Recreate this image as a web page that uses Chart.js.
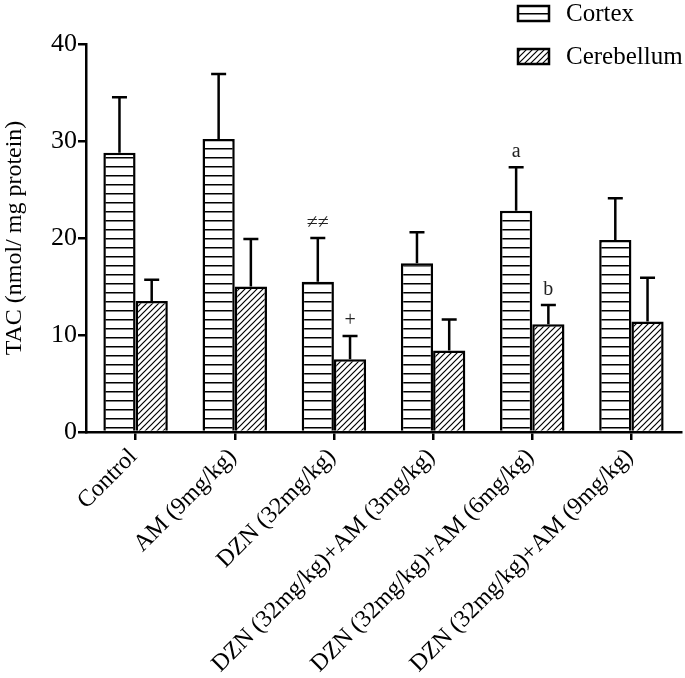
<!DOCTYPE html>
<html>
<head>
<meta charset="utf-8">
<script src="https://cdn.jsdelivr.net/npm/chart.js@4.4.0/dist/chart.umd.min.js"></script>
<style>
body{margin:0;background:#fff}
</style>
</head>
<body>
<canvas id="myChart" width="685" height="678"></canvas>
<script>
// data
const groups = ['Control', 'AM (9mg/kg)', 'DZN (32mg/kg)', 'DZN (32mg/kg)+AM (3mg/kg)', 'DZN (32mg/kg)+AM (6mg/kg)', 'DZN (32mg/kg)+AM (9mg/kg)'];
const cortex = [28.8, 30.2, 15.5, 17.4, 22.8, 19.8];
const cortexSD = [5.7, 6.7, 4.5, 3.2, 4.5, 4.3];
const cerebellum = [13.5, 15.0, 7.5, 8.4, 11.1, 11.4];
const cerebellumSD = [2.2, 4.9, 2.4, 3.2, 2.0, 4.5];
const cortexMarks = ['', '', '≠≠', '', 'a', ''];
const cerebellumMarks = ['', '', '+', '', 'b', ''];
const yTicks = [0, 10, 20, 30, 40];

const serif = "'Liberation Serif', 'Times New Roman', serif";

//patterns
function stripes(){
    const c = document.createElement('canvas');
    c.width = 9; c.height = 9;
    const g = c.getContext('2d');
    g.fillStyle = '#fff'; g.fillRect(0, 0, 9, 9);
    g.fillStyle = '#000'; g.fillRect(0, 4, 9, 1.5);
    return g.createPattern(c, 'repeat');
}
function hatch(){
    const c = document.createElement('canvas');
    c.width = 6; c.height = 6;
    const g = c.getContext('2d');
    g.fillStyle = '#fff'; g.fillRect(0, 0, 6, 6);
    g.strokeStyle = '#000'; g.lineWidth = 1.2;
    g.beginPath();
    g.moveTo(-1, 7); g.lineTo(7, -1);
    g.moveTo(-1, 1); g.lineTo(1, -1);
    g.moveTo(5, 7); g.lineTo(7, 5);
    g.stroke();
    return g.createPattern(c, 'repeat');
}
const ctx = document.getElementById('myChart').getContext('2d');
const cortexFill = stripes();
const cerebFill = hatch();

//error bars + significance marks
const errorBars = {
    id: 'errorBars',
    afterDatasetsDraw(chart){
        const c = chart.ctx;
        const y = chart.scales.y;
        chart.data.datasets.forEach((ds, i) => {
            const meta = chart.getDatasetMeta(i);
            meta.data.forEach((bar, j) => {
                const top = y.getPixelForValue(ds.data[j] + ds.sd[j]);
                c.save();
                c.strokeStyle = '#000';
                c.lineWidth = 2.5;
                c.beginPath();
                c.moveTo(bar.x, bar.y);
                c.lineTo(bar.x, top);
                c.moveTo(bar.x - 7.5, top);
                c.lineTo(bar.x + 7.5, top);
                c.stroke();
                if (ds.marks[j]) {
                    c.fillStyle = '#222';
                    c.font = '20px ' + serif;
                    c.textAlign = 'center';
                    c.textBaseline = 'bottom';
                    c.fillText(ds.marks[j], bar.x, top - 5);
                }
                c.restore();
            });
        });
    }
};

//legend top right
const boxLegend = {
    id: 'boxLegend',
    afterDraw(chart){
        const c = chart.ctx;
        const rows = [[6, 14], [49, 57]];
        chart.data.datasets.forEach((ds, i) => {
            const r = rows[i];
            c.save();
            c.fillStyle = ds.backgroundColor;
            c.fillRect(518, r[0], 31, 15);
            c.strokeStyle = '#000';
            c.lineWidth = 2.5;
            c.strokeRect(518, r[0], 31, 15);
            c.fillStyle = '#000';
            c.font = '25px ' + serif;
            c.textBaseline = 'middle';
            c.fillText(ds.label, 566, r[1]);
            c.restore();
        });
    }
};

const myChart = new Chart(ctx, {
    type: 'bar',
    data: {
        labels: groups,
        datasets: [{
            label: 'Cortex',
            data: cortex,
            sd: cortexSD,
            marks: cortexMarks,
            backgroundColor: cortexFill,
            borderColor: '#000',
            borderWidth: 2.5
        }, {
            label: 'Cerebellum',
            data: cerebellum,
            sd: cerebellumSD,
            marks: cerebellumMarks,
            backgroundColor: cerebFill,
            borderColor: '#000',
            borderWidth: 2.5
        }]
    },
    options: {
        responsive: false,
        animation: false,
        layout: {padding: {top: 44, right: 4, left: 0, bottom: 0}},
        datasets: {bar: {categoryPercentage: 0.65, barPercentage: 1}},
        plugins: {legend: {display: false}, tooltip: {enabled: false}},
        scales: {
            x: {
                afterFit(s){ s.height = 246; },
                grid: {offset: false, drawOnChartArea: false, color: '#000', lineWidth: 2.5, tickLength: 8},
                border: {color: '#000', width: 2.5},
                ticks: {color: '#000', font: {family: serif, size: 24}, minRotation: 45, maxRotation: 45, padding: 3, labelOffset: -2}
            },
            y: {
                min: 0,
                max: 40,
                afterFit(s){ s.width = 86; },
                afterBuildTicks(s){ s.ticks = yTicks.map(v => ({value: v})); },
                grid: {drawOnChartArea: false, color: '#000', lineWidth: 2.5, tickLength: 8},
                border: {color: '#000', width: 2.5},
                ticks: {color: '#000', font: {family: serif, size: 26}, padding: 1},
                title: {display: true, text: 'TAC (nmol/ mg protein)', color: '#000', font: {family: serif, size: 24}, padding: 0}
            }
        }
    },
    plugins: [errorBars, boxLegend]
});
</script>
</body>
</html>
